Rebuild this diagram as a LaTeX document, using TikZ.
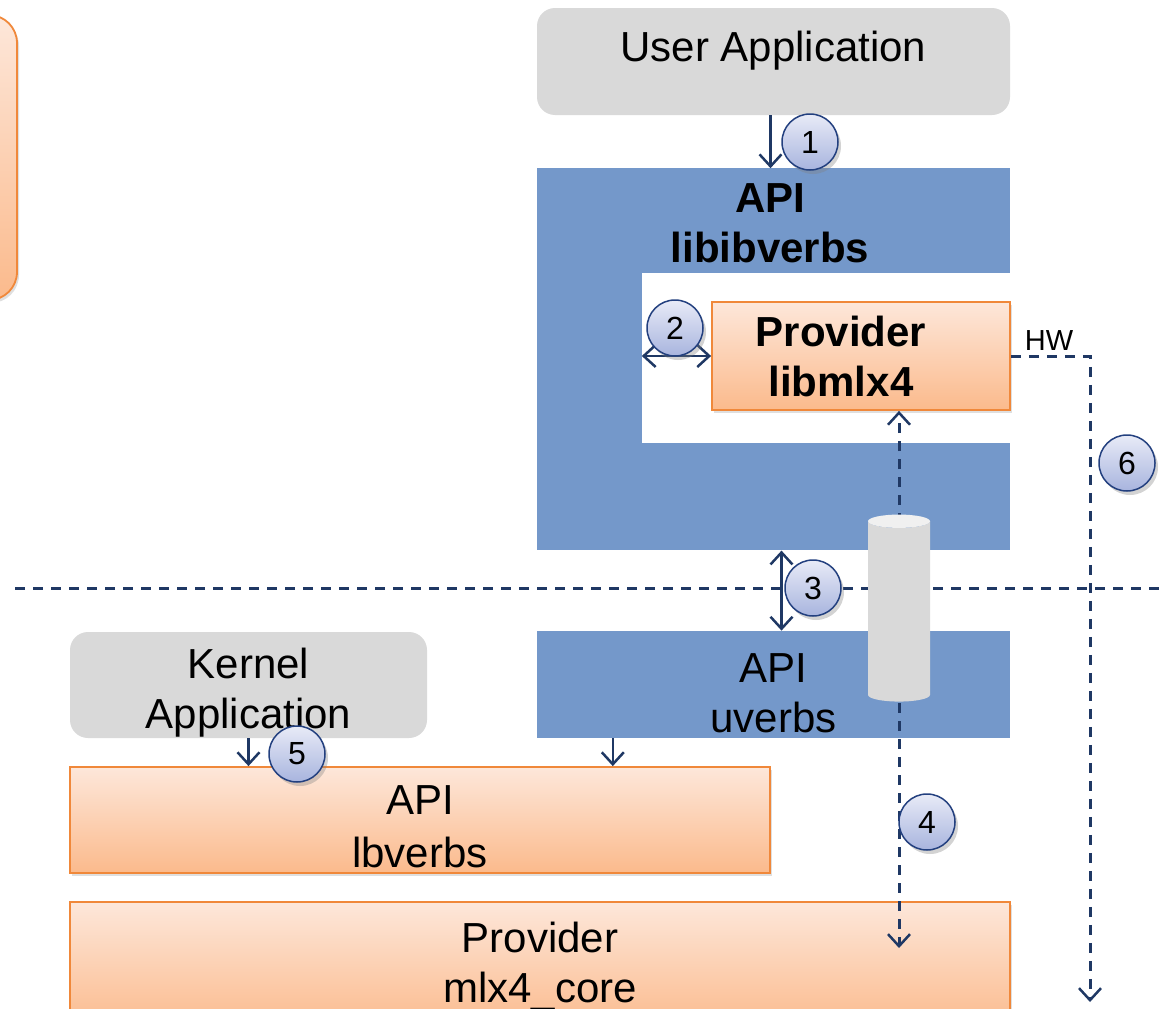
\documentclass[tikz,border=0pt]{standalone}
\usepackage{fontspec}
\setmainfont{Liberation Sans}
\usetikzlibrary{positioning, arrows.meta, shapes.geometric, shadows}

\definecolor{appgray}{HTML}{D9D9D9}
\definecolor{apiblue}{HTML}{7498CA}
\definecolor{provtop}{HTML}{FDE7DA}
\definecolor{provbot}{HTML}{FBBA8C}
\definecolor{provline}{HTML}{F0883A}
\definecolor{linenavy}{HTML}{1F3864}
\definecolor{steptop}{HTML}{E8EBF7}
\definecolor{stepbot}{HTML}{A8B4DE}
\definecolor{stepline}{HTML}{23407F}

\newcommand{\bigfont}{\fontsize{42}{50}\selectfont}

\begin{document}
\begin{tikzpicture}[
    x=1pt, y=-1pt,
    appbox/.style={rectangle, rounded corners=18pt, fill=appgray, minimum width=473pt, minimum height=107pt, font=\bigfont, align=center},
    apibox/.style={rectangle, fill=apiblue, minimum width=473pt, minimum height=107pt, font=\bigfont, align=center},
    provbox/.style={rectangle, draw=provline, line width=1.8pt, top color=provtop, bottom color=provbot, font=\bigfont, align=center, drop shadow={opacity=0.25, shadow xshift=2pt, shadow yshift=-3pt}},
    lowtext/.style={text height=96pt, inner ysep=0pt},
    stepnum/.style={circle, draw=stepline, line width=1.5pt, top color=steptop, bottom color=stepbot, minimum size=56pt, inner sep=0pt, font=\fontsize{32}{32}\selectfont, drop shadow={opacity=0.35, shadow xshift=3pt, shadow yshift=-4pt}},
    arrow/.style={-{Straight Barb[length=12pt, width=22pt, line width=2.5pt]}, line width=2.5pt, draw=linenavy},
    dblarrow/.style={{Straight Barb[length=12pt, width=22pt, line width=2.5pt]}-{Straight Barb[length=12pt, width=22pt, line width=2.5pt]}, line width=2.5pt, draw=linenavy},
    hwline/.style={-{Straight Barb[length=12pt, width=22pt, line width=2.5pt]}, line width=3pt, draw=linenavy, dash pattern=on 10pt off 8pt},
    sepline/.style={line width=3pt, draw=linenavy, dash pattern=on 10pt off 8pt}
]
\useasboundingbox (0,0) rectangle (1159,1009);
\clip (0,0) rectangle (1159,1009);

% Nodes
\node (sidebox) [provbox, rounded corners=28pt, minimum width=160pt, minimum height=285pt] at (-63,157.5) {};

\node (userapp) [appbox, text depth=31pt] at (773.5,61.5) {User Application};
\node (libibverbs) [apibox, minimum height=382pt, below=53pt of userapp] {};
\node (cutout) [rectangle, fill=white, minimum width=368pt, minimum height=170pt, anchor=north east] at ([yshift=-105pt]libibverbs.north east) {};
\node (libtitle) [font=\bigfont\bfseries, align=center] at (770,223) {API\\libibverbs};
\node (provider) [provbox, font=\bigfont\bfseries, minimum width=298pt, minimum height=108pt] at (861,356) {Provider\hspace*{40pt}\\libmlx4\hspace*{40pt}};
\node (hwlabel) [font=\fontsize{29}{29}\selectfont] at (1049,341) {HW};

\node (uverbs) [apibox, lowtext, below=80pt of libibverbs] {API\\uverbs};
\node (kernelapp) [appbox, lowtext, minimum width=357pt, minimum height=106pt] at (248.5,685) {Kernel\\Application};
\node (lbverbs) [provbox, text height=95pt, inner ysep=0pt, minimum width=700pt, minimum height=106pt, font=\fontsize{42}{53}\selectfont] at (420,820) {API\\lbverbs};
\node (mlxcore) [provbox, minimum width=940pt, minimum height=128pt] at (540,966) {Provider\\mlx4\_core};

% Separator and dashed paths
\coordinate (sepleft) at (15,588);
\coordinate (sepright) at (1159,588);
\draw [sepline] (sepleft) -- (sepright);

\coordinate (hwend) at (1090,1002);
\draw [hwline] (provider.east) -- (provider.east -| hwend) -- (hwend);

\coordinate (cylc) at (899,613);
\coordinate (coreend) at (899,948);
\draw [hwline] (cylc) -- (cylc |- provider.south);
\draw [hwline] (cylc) -- (coreend);
\node (cyl) [cylinder, shape border rotate=90, aspect=2, minimum width=62pt, minimum height=187pt, cylinder uses custom fill, cylinder body fill=appgray, cylinder end fill=appgray!40!white] at (cylc) {};

% Arrows
\draw [arrow] ([xshift=-3pt]userapp.south) -- ([xshift=-3pt]libibverbs.north);
\draw [dblarrow] (cutout.west |- provider.west) -- (provider.west);
\draw [dblarrow] ([xshift=8pt]libibverbs.south) -- ([xshift=8pt]uverbs.north);
\draw [arrow] (kernelapp.south) -- (kernelapp.south |- lbverbs.north);
\draw [arrow] ([xshift=76pt]uverbs.south west) -- ([xshift=76pt]uverbs.south west |- lbverbs.north);

% Steps
\node (stepone) [stepnum] at (810,142) {1};
\node (steptwo) [stepnum] at (675,328) {2};
\node (stepthree) [stepnum] at (813,588) {3};
\node (stepfour) [stepnum] at (927,822) {4};
\node (stepfive) [stepnum] at (297,754) {5};
\node (stepsix) [stepnum] at (1127,463) {6};

\end{tikzpicture}
\end{document}
